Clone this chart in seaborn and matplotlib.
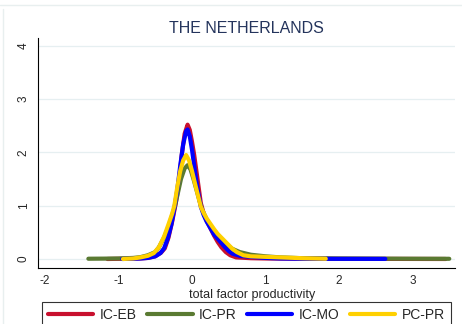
import seaborn as sns
import pandas as pd
import matplotlib
matplotlib.use('Agg')
from matplotlib import pyplot as plt
from matplotlib.lines import Line2D

# density curves (x = tfp, y = density)
eb_x = [-1.15, -0.9, -0.7, -0.6, -0.5, -0.42, -0.37, -0.32, -0.27, -0.22, -0.18, -0.14, -0.1, -0.06,
        -0.03, 0.0, 0.03, 0.06, 0.09, 0.12, 0.16, 0.2, 0.25, 0.3, 0.35, 0.4, 0.46, 0.52, 0.6, 0.8,
        1.0, 1.5, 2.0, 3.0, 3.45]
eb_y = [0.0, 0.005, 0.01, 0.02, 0.05, 0.12, 0.2, 0.4, 0.7, 1.05, 1.4, 1.95, 2.35, 2.52,
        2.42, 2.2, 1.95, 1.65, 1.35, 1.05, 0.85, 0.72, 0.58, 0.44, 0.32, 0.22, 0.13, 0.07, 0.03, 0.015,
        0.01, 0.005, 0.003, 0.001, 0.0]

pr_x = [-1.41, -1.2, -1.0, -0.8, -0.7, -0.6, -0.5, -0.45, -0.38, -0.32, -0.27, -0.23, -0.19, -0.15,
        -0.1, -0.06, -0.02, 0.02, 0.06, 0.1, 0.14, 0.2, 0.25, 0.3, 0.35, 0.4, 0.45, 0.5, 0.55, 0.65,
        0.8, 1.0, 1.2, 1.5, 2.0, 2.5, 3.0, 3.5]
pr_y = [0.005, 0.007, 0.01, 0.02, 0.035, 0.07, 0.13, 0.22, 0.4, 0.6, 0.82, 1.0, 1.25, 1.5,
        1.7, 1.76, 1.68, 1.5, 1.3, 1.1, 0.92, 0.74, 0.62, 0.52, 0.44, 0.37, 0.3, 0.24, 0.19, 0.13,
        0.08, 0.05, 0.03, 0.015, 0.01, 0.007, 0.005, 0.004]

mo_x = [-0.95, -0.8, -0.7, -0.6, -0.5, -0.43, -0.38, -0.33, -0.28, -0.24, -0.2, -0.16, -0.12, -0.08,
        -0.06, -0.03, 0.0, 0.03, 0.06, 0.09, 0.12, 0.16, 0.2, 0.25, 0.3, 0.35, 0.4, 0.45, 0.5, 0.55,
        0.65, 0.8, 1.0, 1.2, 1.5, 2.0, 2.63]
mo_y = [0.0, 0.005, 0.01, 0.02, 0.05, 0.11, 0.2, 0.38, 0.65, 0.95, 1.3, 1.75, 2.15, 2.4,
        2.43, 2.3, 2.05, 1.75, 1.45, 1.2, 0.98, 0.82, 0.7, 0.58, 0.46, 0.38, 0.3, 0.22, 0.15, 0.1,
        0.06, 0.04, 0.02, 0.01, 0.005, 0.003, 0.002]

pc_x = [-0.94, -0.8, -0.7, -0.6, -0.52, -0.45, -0.38, -0.32, -0.27, -0.24, -0.2, -0.16, -0.12, -0.08,
        -0.04, 0.0, 0.04, 0.08, 0.12, 0.16, 0.2, 0.25, 0.3, 0.35, 0.4, 0.45, 0.5, 0.55, 0.61, 0.7,
        0.8, 1.0, 1.2, 1.5, 1.82]
pc_y = [0.0, 0.01, 0.03, 0.06, 0.11, 0.22, 0.42, 0.65, 0.85, 1.0, 1.35, 1.65, 1.85, 1.95,
        1.85, 1.65, 1.42, 1.2, 0.98, 0.86, 0.76, 0.66, 0.56, 0.47, 0.4, 0.33, 0.26, 0.19, 0.13, 0.07,
        0.05, 0.04, 0.03, 0.015, 0.005]

series = ['IC-EB', 'IC-PR', 'IC-MO', 'PC-PR']
colors = ['#c8102e', '#5a7a32', '#0000ff', '#ffd000']
x_ticks = [-2, -1, 0, 1, 2, 3]
y_ticks = [0, 1, 2, 3, 4]

frames = []
for name, xs, ys in zip(series, [eb_x, pr_x, mo_x, pc_x], [eb_y, pr_y, mo_y, pc_y]):
    frames.append(pd.DataFrame({'tfp': xs, 'density': ys, 'series': name}))
df = pd.concat(frames, ignore_index=True)

sns.set_style('white')
plt.rcParams['font.family'] = ['Liberation Sans', 'DejaVu Sans']

W, H = 462, 324
fig = plt.figure(figsize=(W / 100, H / 100), dpi=100)
ax = fig.add_axes([38 / W, 1 - 268 / H, (455 - 38) / W, (268 - 38) / H])

sns.lineplot(data=df, x='tfp', y='density', hue='series', hue_order=series,
             palette=colors, linewidth=3.0, ax=ax, legend=False, errorbar=None)

ax.set_xlim(-2.095, 3.578)
ax.set_ylim(-0.169, 4.146)
ax.set_xticks(x_ticks)
ax.set_yticks(y_ticks)
ax.set_xticklabels([str(t) for t in x_ticks], fontsize=8.5)
ax.set_yticklabels([str(t) for t in y_ticks], fontsize=8.5, rotation=90, va='center')
ax.tick_params(axis='both', direction='out', length=3.4, width=0.8, color='black')
ax.tick_params(axis='x', pad=1.6)
ax.tick_params(axis='y', pad=2.5)
ax.grid(axis='y', color='#e6eff1', linewidth=0.9)
ax.set_axisbelow(True)
for s in ['top', 'right']:
    ax.spines[s].set_visible(False)
for s in ['left', 'bottom']:
    ax.spines[s].set_color('black')
    ax.spines[s].set_linewidth(0.8)

ax.set_xlabel('total factor productivity', fontsize=9)
ax.xaxis.set_label_coords(0.513, -0.093)
ax.set_ylabel('')
ax.set_title('THE NETHERLANDS', fontsize=11.5, color='#24345c', pad=3.5)

handles = [Line2D([], [], color=c, linewidth=3.0) for c in colors]
fig.legend(handles, series, loc='upper left', ncol=4, mode='expand',
           bbox_to_anchor=(42 / W, 1 - 305 / H, 409 / W, 0.01),
           fontsize=10, frameon=True, fancybox=False, edgecolor='black',
           handlelength=3.25, handletextpad=0.45, borderpad=0.45, borderaxespad=0)
fig.legends[0].get_frame().set_linewidth(0.8)

# faint outer graph-region border
fig.add_artist(Line2D([0, 1], [1 - 5 / H, 1 - 5 / H], color='#e8efef', linewidth=1))
fig.add_artist(Line2D([3 / W, 3 / W], [0, 1 - 9 / H], color='#e8efef', linewidth=1))

fig.savefig('out.png', dpi=100)
